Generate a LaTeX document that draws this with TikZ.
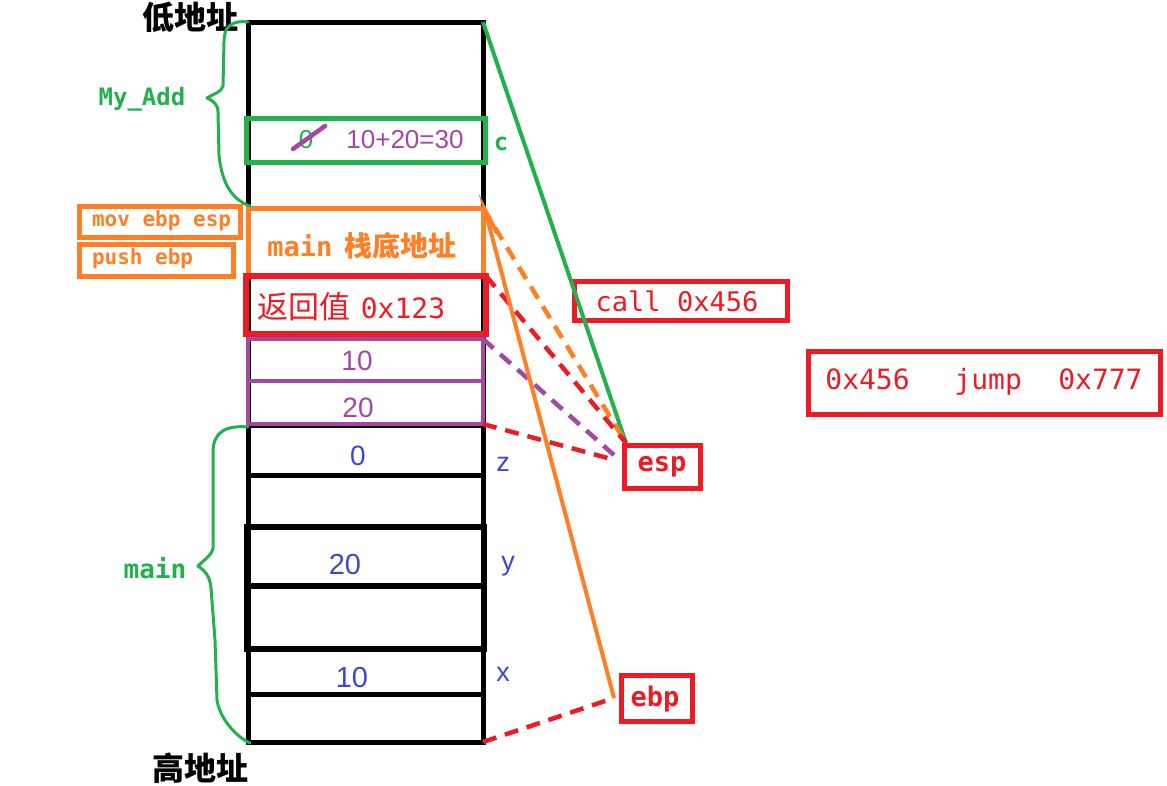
\documentclass[tikz,border=0pt]{standalone}
\usepackage{fontspec}
\setmainfont{Liberation Sans}
\newfontfamily\cjk{Noto Sans CJK SC}
\newfontfamily\mono{DejaVu Sans Mono}
\definecolor{pgreen}{HTML}{22B14C}
\definecolor{porange}{HTML}{FF7F27}
\definecolor{pred}{HTML}{ED1C24}
\definecolor{ppurple}{HTML}{A349A4}
\definecolor{pblue}{HTML}{3F48CC}
\newcommand{\fs}[1]{\fontsize{#1}{#1}\selectfont}
\begin{document}
\begin{tikzpicture}[x=1pt,y=-1pt,line join=miter,
  box/.style={draw,anchor=north west,inner sep=0pt,outer sep=0pt,line width=5pt},
  txt/.style={inner sep=0pt,outer sep=0pt},
  dashln/.style={dash pattern=on 14pt off 9pt,line width=4.5pt},
  solidline/.style={line width=4pt}]
\useasboundingbox[fill=white] (0,0) rectangle (1167,785);

% ---- stack (black)
\node[box,minimum width=235pt,minimum height=720pt] (stack) at (248,22) {};
\node[box,minimum width=235pt,minimum height=50pt] (r0) at (248,425) {};
\node[box,minimum width=235pt,minimum height=52pt] (r1) at (248,475) {};
\node[box,line width=5.5pt,minimum width=238pt,minimum height=59pt] (r2a) at (246.5,527) {};
\node[box,line width=5.5pt,minimum width=238pt,minimum height=63pt] (r2b) at (246.5,586) {};
\node[box,minimum width=235pt,minimum height=45pt] (r3) at (248,649) {};
\node[box,minimum width=235pt,minimum height=48pt] (r4) at (248,694) {};

% ---- coloured cells
\node[box,draw=pgreen,line width=5pt,minimum width=239pt,minimum height=44pt] (cbox) at (246,118) {};
\node[box,draw=porange,line width=5pt,minimum width=235pt,minimum height=68pt] (mainbox) at (248,208) {};
\node[box,draw=pred,line width=5.5pt,minimum width=240pt,minimum height=58pt] (retbox) at (246,276) {};
\node[box,draw=ppurple,line width=4.5pt,minimum width=235pt,minimum height=42pt] (p10) at (248,339) {};
\node[box,draw=ppurple,line width=4.5pt,minimum width=235pt,minimum height=43pt] (p20) at (248,381) {};

% ---- texts in the stack
\node[txt,text=pgreen] (zeroold) at (306,140) {\fs{26}0};
\draw[ppurple,line width=4.5pt,line cap=round] ([shift={(-13,9)}]zeroold.center) -- ([shift={(19,-14)}]zeroold.center);
\node[txt,text=ppurple] (sum) at (405,140) {\fs{26}10+20=30};
\node[txt,text=porange] (maintxt) at (362,246) {\mono\bfseries\fs{27}main\hspace{0.45em}\cjk\bfseries\fs{28}栈底地址};
\node[txt,text=pred,anchor=west] (rettxt) at (257,307) {\cjk\fs{31}返回值\hspace{0.35em}\mono\fs{28}0x123};
\node[txt,text=ppurple] (t10) at (357,361) {\fs{28}10};
\node[txt,text=ppurple] (t20) at (358,408) {\fs{28}20};
\node[txt,text=pblue] (t0) at (358,456) {\fs{28}0};
\node[txt,text=pblue] (ty20) at (345,565) {\fs{29}20};
\node[txt,text=pblue] (tx10) at (352,678) {\fs{29}10};

% ---- side labels
\node[txt,text=pgreen] (lc) at (501,144) {\mono\bfseries\fs{24}c};
\node[txt,text=pblue] (lz) at (503,464) {\fs{27}z};
\node[txt,text=pblue] (ly) at (508,566) {\fs{27}y};
\node[txt,text=pblue] (lx) at (503,674) {\fs{27}x};

\node[txt] (low) at (190,17) {\cjk\bfseries\fs{32}低地址};
\node[txt] (high) at (200,768) {\cjk\bfseries\fs{32}高地址};

% ---- braces
\node[txt,text=pgreen] (myadd) at (142,99) {\mono\bfseries\fs{24}My\_Add};
\draw[pgreen,line width=3pt,line cap=round,line join=round]
  (248,22) .. controls (230,20) and (224,28) .. (224,42) -- (223,86)
  .. controls (222,92) and (213,94) .. (207,98)
  .. controls (213,101) and (218,104) .. (218,112) -- (219,155)
  .. controls (222,185) and (233,200) .. (250,206);
\node[txt,text=pgreen] (mainlbl) at (155,568) {\mono\bfseries\fs{26}main};
\draw[pgreen,line width=3pt,line cap=round,line join=round]
  (248,427) .. controls (226,425) and (213,432) .. (213,452) -- (213,548)
  .. controls (212,555) and (204,560) .. (198,566)
  .. controls (205,571) and (210,576) .. (211,588) -- (215,640) -- (217,700)
  .. controls (220,720) and (238,738) .. (250,743);

% ---- instruction boxes (left)
\node[box,draw=porange,line width=5pt,minimum width=161pt,minimum height=31pt] (movbox) at (79,206) {};
\node[txt,text=porange,anchor=west] (movtxt) at (92,221) {\mono\bfseries\fs{21}mov ebp esp};
\node[box,draw=porange,line width=5pt,minimum width=154pt,minimum height=32pt] (pushbox) at (79,244) {};
\node[txt,text=porange,anchor=west] (pushtxt) at (92,259) {\mono\bfseries\fs{21}push ebp};

% ---- right boxes
\node[box,draw=pred,line width=5pt,minimum width=213pt,minimum height=39pt] (callbox) at (574,281) {};
\node[txt,text=pred] (calltxt) at (677,301) {\mono\fs{27}call 0x456};
\node[box,draw=pred,line width=5pt,minimum width=352pt,minimum height=63pt] (jumpbox) at (808,351) {};
\node[txt,text=pred] (jumptxt) at (984,382) {\mono\fs{28}0x456\hspace{1.6em}jump\hspace{1.3em}0x777};
\node[box,draw=pred,line width=5pt,minimum width=76pt,minimum height=43pt] (esp) at (624,445) {};
\node[txt,text=pred] (esptxt) at (662,467) {\mono\bfseries\fs{27}esp};
\node[box,draw=pred,line width=5pt,minimum width=71pt,minimum height=46pt] (ebp) at (621,675) {};
\node[txt,text=pred] (ebptxt) at (655,699) {\mono\bfseries\fs{27}ebp};

% ---- connectors
\coordinate (espA) at ([shift={(2,-2)}]esp.north west);
\coordinate (espB) at ([shift={(-6,-8)}]esp.west);
\coordinate (espC) at ([shift={(-11,-7)}]esp.west);
\coordinate (ebpA) at ([shift={(-7,0)}]ebp.west);
\draw[pgreen,solidline] (stack.north east) -- (espA);
\draw[porange,dashln] (mainbox.north east) -- (espA);
\draw[pred,dashln] (retbox.north east) -- (espA);
\draw[ppurple,dashln] (p10.north east) -- (espB);
\draw[pred,dashln] (p20.south east) -- (espC);
\draw[pred,dashln] (stack.south east) -- (ebpA);
\draw[porange,solidline,line join=miter] (ebpA) -- ([shift={(2,2)}]mainbox.north east) -- ++(12,23);
\end{tikzpicture}
\end{document}
